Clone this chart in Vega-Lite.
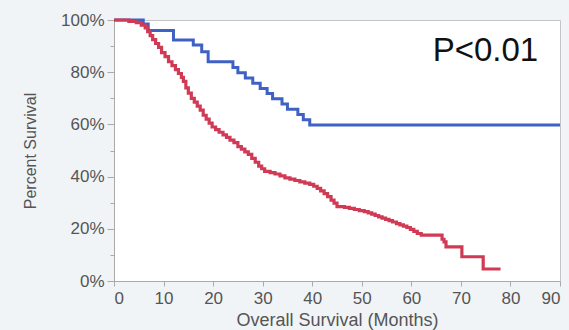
{
  "$schema": "https://vega.github.io/schema/vega-lite/v6.json",
  "width": 446,
  "height": 261,
  "autosize": {"type": "none"},
  "padding": {"left": 114, "top": 20, "right": 9, "bottom": 49},
  "background": "#f1f4f7",
  "config": {
    "view": {"fill": "white", "stroke": "#c4c4c4", "strokeWidth": 1},
    "font": "Liberation Sans"
  },
  "datasets": {
    "blue": [
      {"month": 0, "pct": 100}, {"month": 5.9, "pct": 98.5}, {"month": 6.9, "pct": 96},
      {"month": 12, "pct": 92.3}, {"month": 16, "pct": 90.4}, {"month": 17.7, "pct": 87.8},
      {"month": 19, "pct": 84}, {"month": 24, "pct": 81.8}, {"month": 25, "pct": 79.8},
      {"month": 26.5, "pct": 77.8}, {"month": 28, "pct": 75.8}, {"month": 29.5, "pct": 73.8},
      {"month": 30.9, "pct": 71.8}, {"month": 32, "pct": 69.8}, {"month": 33.9, "pct": 67.8},
      {"month": 35, "pct": 65.8}, {"month": 37.1, "pct": 63.8}, {"month": 38.2, "pct": 61.8},
      {"month": 39.5, "pct": 59.8}, {"month": 90, "pct": 59.8}
    ],
    "red": [
      {"month": 0, "pct": 100}, {"month": 3, "pct": 99.5}, {"month": 4.5, "pct": 99}, {"month": 5.5, "pct": 98},
      {"month": 6.3, "pct": 97}, {"month": 6.8, "pct": 95.5}, {"month": 7.3, "pct": 94}, {"month": 7.8, "pct": 92.5},
      {"month": 8.4, "pct": 91}, {"month": 9, "pct": 89.5}, {"month": 9.6, "pct": 87.5}, {"month": 10.3, "pct": 86},
      {"month": 11, "pct": 84}, {"month": 11.7, "pct": 82.5}, {"month": 12.4, "pct": 81}, {"month": 13, "pct": 79.5},
      {"month": 13.6, "pct": 78}, {"month": 14, "pct": 76.5}, {"month": 14.5, "pct": 74}, {"month": 15, "pct": 72},
      {"month": 15.6, "pct": 70}, {"month": 16.2, "pct": 68.5}, {"month": 16.8, "pct": 67}, {"month": 17.4, "pct": 65.5},
      {"month": 18, "pct": 63.5}, {"month": 18.6, "pct": 62}, {"month": 19.2, "pct": 60.5}, {"month": 19.8, "pct": 59},
      {"month": 20.5, "pct": 58}, {"month": 21.2, "pct": 57}, {"month": 22, "pct": 56}, {"month": 22.7, "pct": 55},
      {"month": 23.4, "pct": 54}, {"month": 24.2, "pct": 53}, {"month": 25, "pct": 51.5}, {"month": 25.7, "pct": 50.5},
      {"month": 26.4, "pct": 49.5}, {"month": 27.1, "pct": 48.5}, {"month": 27.8, "pct": 47}, {"month": 28.5, "pct": 45.5},
      {"month": 29.2, "pct": 44}, {"month": 29.8, "pct": 43}, {"month": 30.4, "pct": 42}, {"month": 31.5, "pct": 41.5},
      {"month": 32.5, "pct": 41}, {"month": 33.5, "pct": 40.3}, {"month": 34.5, "pct": 39.5}, {"month": 35.5, "pct": 39},
      {"month": 36.5, "pct": 38.5}, {"month": 37.5, "pct": 38}, {"month": 38.5, "pct": 37.5}, {"month": 39.5, "pct": 37},
      {"month": 40.3, "pct": 36.3}, {"month": 41, "pct": 35.5}, {"month": 41.7, "pct": 34.5}, {"month": 42.4, "pct": 33.5},
      {"month": 43.1, "pct": 32.3}, {"month": 43.8, "pct": 31}, {"month": 44.4, "pct": 29.8}, {"month": 45, "pct": 28.5},
      {"month": 46.5, "pct": 28.2}, {"month": 47.5, "pct": 27.8}, {"month": 48.5, "pct": 27.4}, {"month": 49.5, "pct": 27},
      {"month": 50.5, "pct": 26.6}, {"month": 51.3, "pct": 26.1}, {"month": 52, "pct": 25.6}, {"month": 52.7, "pct": 25.1},
      {"month": 53.4, "pct": 24.6}, {"month": 54.1, "pct": 24.1}, {"month": 54.8, "pct": 23.6}, {"month": 55.5, "pct": 23.1},
      {"month": 56.2, "pct": 22.6}, {"month": 57, "pct": 22}, {"month": 57.7, "pct": 21.5}, {"month": 58.4, "pct": 21},
      {"month": 59.1, "pct": 20.5}, {"month": 59.8, "pct": 19.8}, {"month": 60.5, "pct": 19}, {"month": 61.2, "pct": 18.2},
      {"month": 62, "pct": 17.6}, {"month": 66.2, "pct": 16}, {"month": 66.6, "pct": 15}, {"month": 67, "pct": 13.1},
      {"month": 70.2, "pct": 9.3}, {"month": 74.5, "pct": 4.6}, {"month": 78, "pct": 4.6}
    ],
    "note": [{"month": 85.6, "pct": 88.3, "label": "P<0.01"}]
  },
  "encoding": {
    "x": {
      "field": "month", "type": "quantitative",
      "scale": {"domain": [0, 90], "nice": false},
      "axis": {
        "values": [0, 10, 20, 30, 40, 50, 60, 70, 80, 90],
        "title": "Overall Survival (Months)",
        "grid": false,
        "domainColor": "#aaaaaa", "tickColor": "#aaaaaa", "tickSize": 5,
        "labelColor": "#555555", "labelFontSize": 17, "labelPadding": 4,
        "titleColor": "#555555", "titleFontSize": 18, "titleFontWeight": "normal", "titlePadding": 5
      }
    },
    "y": {
      "field": "pct", "type": "quantitative",
      "scale": {"domain": [0, 100], "nice": false},
      "axis": {
        "values": [0, 10, 20, 30, 40, 50, 60, 70, 80, 90, 100],
        "labelExpr": "datum.value % 20 == 0 ? datum.value + '%' : ''",
        "tickSize": {"condition": {"test": "datum.value % 20 == 0", "value": 7}, "value": 4},
        "title": "Percent Survival",
        "grid": false,
        "domainColor": "#aaaaaa", "tickColor": "#aaaaaa",
        "labelColor": "#555555", "labelFontSize": 17, "labelPadding": 3,
        "titleColor": "#555555", "titleFontSize": 16, "titleFontWeight": "normal", "titlePadding": 22
      }
    }
  },
  "layer": [
    {
      "data": {"name": "blue"},
      "mark": {"type": "line", "interpolate": "step-after", "color": "#3f60c4", "strokeWidth": 3}
    },
    {
      "data": {"name": "red"},
      "mark": {"type": "line", "interpolate": "step-after", "color": "#d03a55", "strokeWidth": 3.2}
    },
    {
      "data": {"name": "note"},
      "mark": {"type": "text", "align": "right", "baseline": "middle", "fontSize": 33, "color": "#111111", "font": "Liberation Sans"},
      "encoding": {"text": {"field": "label"}}
    }
  ]
}
